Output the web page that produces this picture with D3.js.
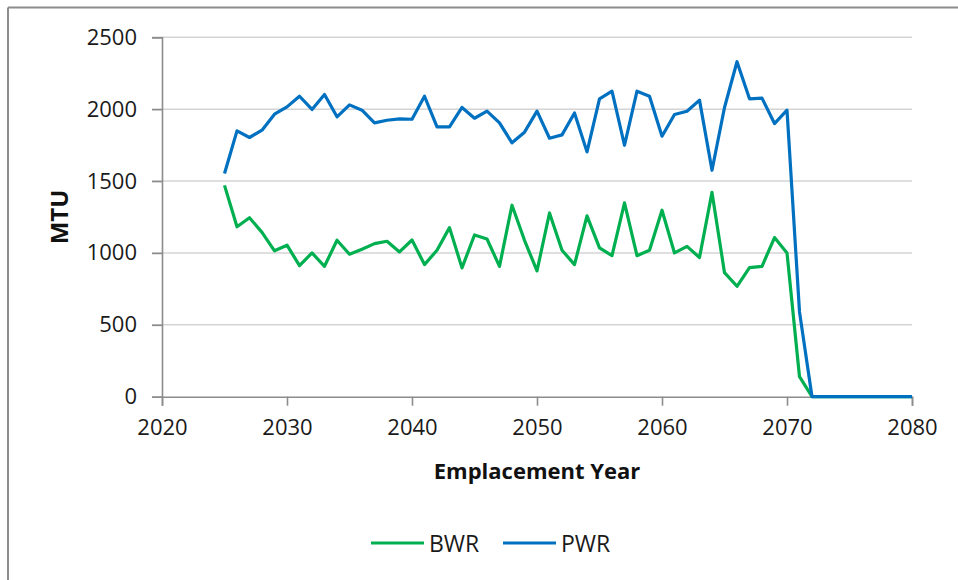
<!DOCTYPE html>
<html><head><meta charset="utf-8">
<script src="https://cdn.jsdelivr.net/npm/d3@7"></script>
<style>
html,body{margin:0;padding:0;background:#fff;}
svg{display:block;font-family:"Open Sans",Lato,sans-serif;}
</style></head>
<body><svg id="c" width="958" height="580"></svg>
<script>
const years = d3.range(2025, 2081);
const bwr = [1470,1182,1245,1143,1015,1054,912,1000,907,1088,991,1026,1065,1081,1007,1090,
  919,1019,1176,896,1125,1097,907,1332,1088,875,1278,1019,919,1258,1035,981,1348,981,1019,1297,
  1000,1046,968,1421,863,768,898,907,1107,1000,139,0,0,0,0,0,0,0,0,0];
const pwr = [1553,1849,1803,1854,1965,2016,2090,1998,2102,1947,2030,1993,1905,1923,1933,1930,
  2090,1877,1877,2012,1937,1986,1905,1766,1840,1986,1798,1821,1974,1703,2072,2125,1749,2125,2090,1812,
  1963,1986,2063,1575,2012,2330,2072,2077,1900,1993,590,0,0,0,0,0,0,0,0,0];
const xTicks = [2020,2030,2040,2050,2060,2070,2080];
const yTicks = [0,500,1000,1500,2000,2500];
const seriesNames = ["BWR","PWR"];
const seriesColors = ["#00B050","#0070C0"];

const svg = d3.select("#c");
// frame
svg.append("line").attr("x1",8).attr("x2",8).attr("y1",7.5).attr("y2",580).attr("stroke","#8c8c8c").attr("stroke-width",2);
svg.append("line").attr("x1",8).attr("x2",958).attr("y1",7.5).attr("y2",7.5).attr("stroke","#8c8c8c").attr("stroke-width",2);

const x = d3.scaleLinear().domain([2020,2080]).range([162,912]);
const y = d3.scaleLinear().domain([0,2500]).range([396.7,37.3]);

// gridlines
svg.append("g").selectAll("line").data(yTicks.filter(d=>d>0)).join("line")
  .attr("x1",152).attr("x2",912).attr("y1",d=>y(d)).attr("y2",d=>y(d))
  .attr("stroke","#d4d4d4").attr("stroke-width",1.6);

// y axis
const yAxis = svg.append("g").attr("transform","translate(162,0)")
  .call(d3.axisLeft(y).tickValues(yTicks).tickSize(10).tickPadding(15).tickFormat(d3.format("d")));
yAxis.select(".domain").attr("stroke","#8c8c8c").attr("stroke-width",1.6);
yAxis.selectAll(".tick line").attr("stroke","#8c8c8c").attr("stroke-width",1.6);
yAxis.selectAll("text").attr("font-size",22).attr("fill","#1a1a1a").attr("font-family","'Open Sans',sans-serif");

// x axis
const xAxis = svg.append("g").attr("transform","translate(0,396.7)")
  .call(d3.axisBottom(x).tickValues(xTicks).tickSize(9).tickPadding(14).tickFormat(d3.format("d")));
xAxis.select(".domain").attr("stroke","#8c8c8c").attr("stroke-width",1.6);
xAxis.selectAll(".tick line").attr("stroke","#8c8c8c").attr("stroke-width",1.6);
xAxis.selectAll("text").attr("font-size",22).attr("fill","#1a1a1a").attr("font-family","'Open Sans',sans-serif");

// lines
const line = d3.line().x((d,i)=>x(years[i])).y(d=>y(d));
[bwr,pwr].forEach((s,k)=>{
  svg.append("path").datum(s).attr("d",line).attr("fill","none")
    .attr("stroke",seriesColors[k]).attr("stroke-width",3.2).attr("stroke-linejoin","round");
});

// axis titles
svg.append("text").attr("x",537).attr("y",479).attr("text-anchor","middle")
  .attr("font-size",22).attr("font-weight","bold").attr("fill","#111").text("Emplacement Year");
svg.append("text").attr("transform","translate(68,217) rotate(-90)").attr("text-anchor","middle")
  .attr("font-size",24).attr("font-weight","bold").attr("fill","#111").text("MTU");

// legend
const legX = [371,503];
seriesNames.forEach((n,k)=>{
  svg.append("line").attr("x1",legX[k]).attr("x2",legX[k]+53).attr("y1",543).attr("y2",543)
    .attr("stroke",seriesColors[k]).attr("stroke-width",3.2);
  svg.append("text").attr("x",legX[k]+58).attr("y",551.5).attr("font-size",23).attr("fill","#1a1a1a").text(n);
});
</script></body></html>
